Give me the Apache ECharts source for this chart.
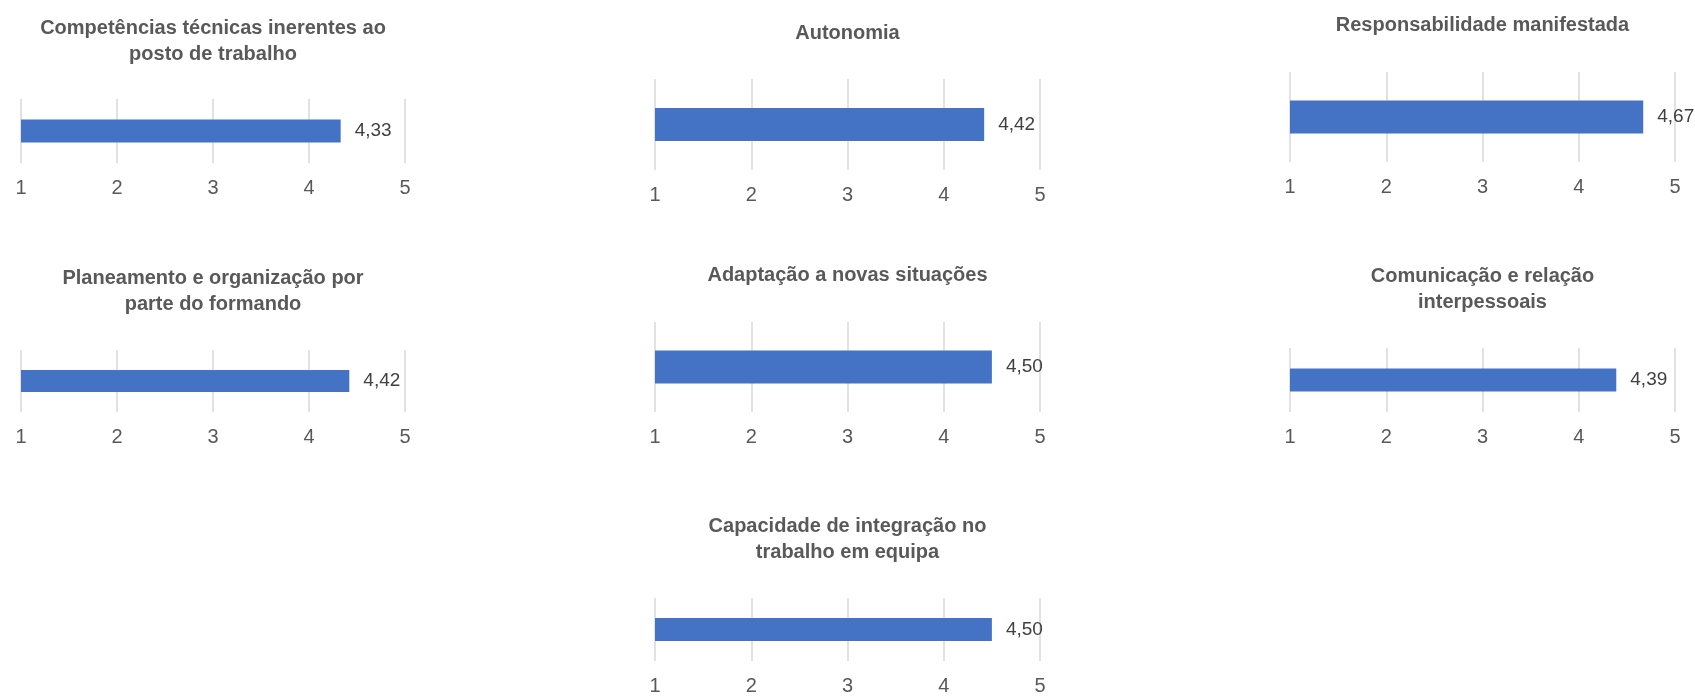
<!DOCTYPE html>
<html>
<head>
<meta charset="utf-8">
<script src="https://cdn.jsdelivr.net/npm/echarts@6/dist/echarts.min.js"></script>
<style>
  html, body { margin: 0; padding: 0; background: #ffffff; }
  #chart { width: 1695px; height: 696px; }
</style>
</head>
<body>
<div id="chart"></div>
<script>
// ---- data ----
const panelTitles = [
  "Competências técnicas inerentes ao\nposto de trabalho",
  "Autonomia",
  "Responsabilidade manifestada",
  "Planeamento e organização por\nparte do formando",
  "Adaptação a novas situações",
  "Comunicação e relação\ninterpessoais",
  "Capacidade de integração no\ntrabalho em equipa"
];
const panelValues = [4.33, 4.42, 4.67, 4.42, 4.50, 4.39, 4.50];
const axisMin = 1;
const axisMax = 5;
const axisStep = 1;

// ---- layout (pixels) ----
const layout = [
  { x1: 21,   x5: 405,  top: 99,  bottom: 163, bar: 23, tTop: 15 },
  { x1: 655,  x5: 1040, top: 79,  bottom: 170, bar: 33, tTop: 20 },
  { x1: 1290, x5: 1675, top: 72,  bottom: 162, bar: 33, tTop: 12 },
  { x1: 21,   x5: 405,  top: 350, bottom: 412, bar: 22, tTop: 265 },
  { x1: 655,  x5: 1040, top: 322, bottom: 412, bar: 33, tTop: 262 },
  { x1: 1290, x5: 1675, top: 348, bottom: 412, bar: 23, tTop: 263 },
  { x1: 655,  x5: 1040, top: 598, bottom: 662, bar: 23, tTop: 513 }
];

const FONT = "'Liberation Sans Narrow', 'Arial Narrow', 'Liberation Sans', Arial, sans-serif";

const grids = [], xAxes = [], yAxes = [], series = [], titles = [];
panelValues.forEach((v, i) => {
  const L = layout[i];
  grids.push({ left: L.x1, top: L.top, width: L.x5 - L.x1, height: L.bottom - L.top, containLabel: false });
  xAxes.push({
    gridIndex: i, type: 'value', min: axisMin, max: axisMax, interval: axisStep,
    axisLine: { show: false }, axisTick: { show: false },
    axisLabel: { color: '#595959', fontSize: 20, fontFamily: FONT, margin: 15 },
    splitLine: { show: true, lineStyle: { color: '#d9d9d9', width: 1.5 } }
  });
  yAxes.push({
    gridIndex: i, type: 'category', data: [''],
    axisLine: { show: false }, axisTick: { show: false }, axisLabel: { show: false }
  });
  series.push({
    type: 'bar', xAxisIndex: i, yAxisIndex: i, data: [v], barWidth: L.bar,
    itemStyle: { color: '#4472C4' },
    label: {
      show: true, position: 'right', distance: 14,
      color: '#404040', fontSize: 19, fontFamily: FONT,
      formatter: p => p.value.toFixed(2).replace('.', ',')
    },
    silent: true
  });
  titles.push({
    text: panelTitles[i],
    left: (L.x1 + L.x5) / 2, top: L.tTop, textAlign: 'center', padding: 0,
    textStyle: { color: '#595959', fontSize: 20, fontWeight: 'bold', fontFamily: FONT, lineHeight: 26 }
  });
});

const chart = echarts.init(document.getElementById('chart'), null, { renderer: 'canvas' });
chart.setOption({
  animation: false,
  backgroundColor: '#ffffff',
  title: titles,
  grid: grids,
  xAxis: xAxes,
  yAxis: yAxes,
  series: series
});
</script>
</body>
</html>
